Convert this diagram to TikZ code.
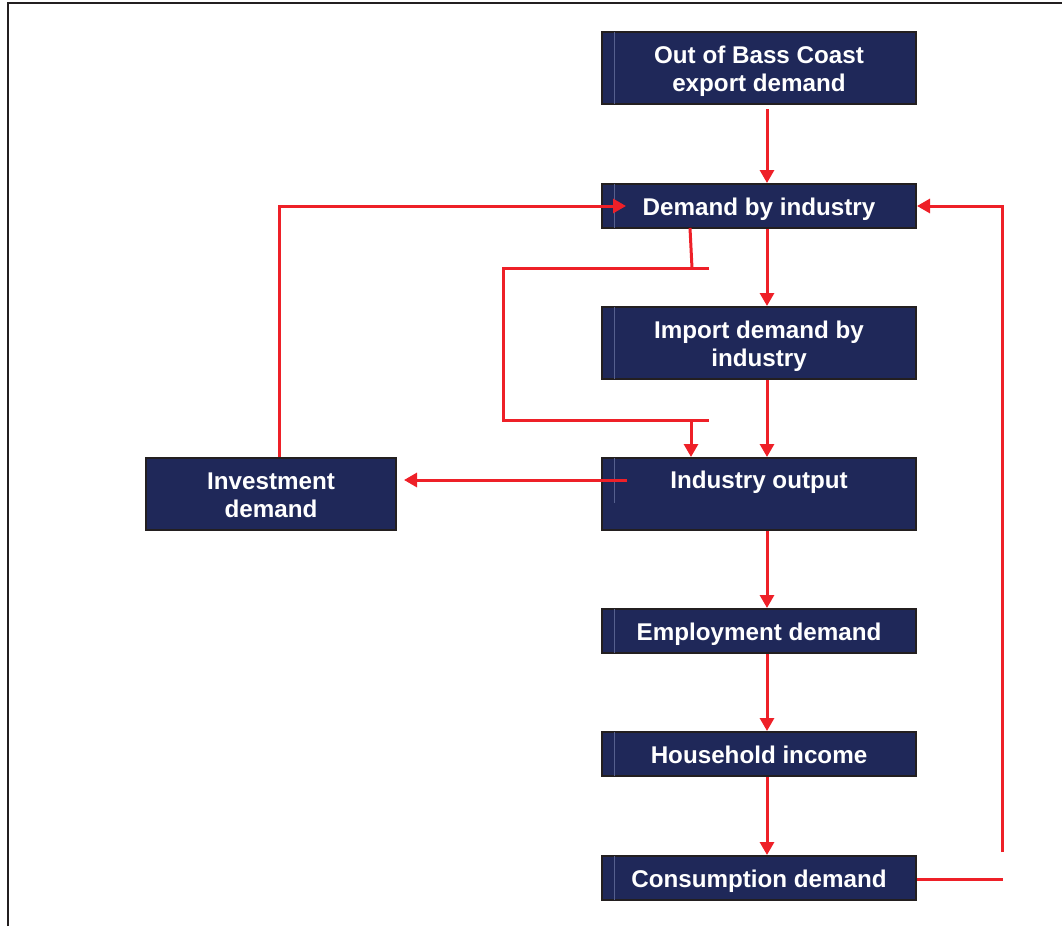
\documentclass[tikz,border=0pt]{standalone}
\usepackage{fontspec}
\setmainfont{Liberation Sans}
\usetikzlibrary{arrows.meta}
\definecolor{navy}{HTML}{1F2859}
\definecolor{inner}{HTML}{56608E}
\definecolor{arrred}{HTML}{EE2028}
\definecolor{frame}{HTML}{231F20}
\begin{document}
\begin{tikzpicture}[x=1pt,y=-1pt,
  txt/.style={text=white,font=\fontsize{24.2}{28}\selectfont\bfseries,align=center,inner sep=0pt,text height=21pt,text depth=2pt},
  two/.style={text height=51pt,text depth=4pt},
  box/.style={txt,draw=frame,line width=2pt,fill=navy},
  wide/.style={box,minimum width=314pt},
  conn/.style={draw=arrred,line width=3pt},
  tip/.style={conn,-{Triangle[width=14pt,length=13pt]}},
  innerline/.style={draw=inner,line width=0.8pt}]
\useasboundingbox (0,0) rectangle (1062,926);
\draw[draw=frame,line width=2.2pt] (8,926) -- (8,3) -- (1062,3);

\node[wide,two,minimum height=72pt] (out) at (759,68) {Out of Bass Coast\\export demand};
\node[wide,minimum height=44pt] (dem) at (759,206) {Demand by industry};
\node[wide,two,minimum height=72pt] (imp) at (759,343) {Import demand by\\industry};
\node[wide,minimum height=72pt] (outp) at (759,494) {};
\node[txt] (outpt) at (759,479) {Industry output};
\node[box,two,minimum width=250pt,minimum height=72pt] (inv) at (271,494) {Investment\\demand};
\node[wide,minimum height=44pt] (emp) at (759,631) {Employment demand};
\node[wide,minimum height=44pt] (hh) at (759,754) {Household income};
\node[wide,minimum height=44pt] (cons) at (759,878) {Consumption demand};

% thin inner lines
\draw[innerline] ([xshift=13pt,yshift=-1pt]out.north west) -- ([xshift=13pt,yshift=1pt]out.south west);
\draw[innerline] ([xshift=13pt,yshift=-1pt]dem.north west) -- ([xshift=13pt,yshift=1pt]dem.south west);
\draw[innerline] ([xshift=13pt,yshift=-1pt]imp.north west) -- ([xshift=13pt,yshift=1pt]imp.south west);
\draw[innerline] ([xshift=13pt,yshift=-1pt]outp.north west) -- ([xshift=13pt,yshift=28pt]outp.south west);
\draw[innerline] ([xshift=13pt,yshift=-1pt]emp.north west) -- ([xshift=13pt,yshift=1pt]emp.south west);
\draw[innerline] ([xshift=13pt,yshift=-1pt]hh.north west) -- ([xshift=13pt,yshift=1pt]hh.south west);
\draw[innerline] ([xshift=13pt,yshift=-1pt]cons.north west) -- ([xshift=13pt,yshift=1pt]cons.south west);

% main chain
\draw[tip] ([xshift=8pt,yshift=-4pt]out.south) -- ([xshift=8pt]dem.north);
\draw[tip] ([xshift=8pt]dem.south) -- ([xshift=8pt]imp.north);
\draw[tip] ([xshift=8pt]imp.south) -- ([xshift=8pt]outp.north);
\draw[tip] ([xshift=8pt]outp.south) -- ([xshift=8pt]emp.north);
\draw[tip] ([xshift=8pt]emp.south) -- ([xshift=8pt]hh.north);
\draw[tip] ([xshift=8pt]hh.south) -- ([xshift=8pt]cons.north);

% consumption feedback
\coordinate (c2) at (1002,852);
\draw[conn] ([yshift=-1pt]cons.east) -- ++(86,0);
\draw[tip] (c2) |- (dem.east);

% investment feedback
\draw[tip] ([xshift=8pt]inv.north) |- ([xshift=25pt]dem.west);
\draw[tip] ([xshift=26pt,yshift=14pt]outp.west) -- ([xshift=7pt,yshift=14pt]inv.east);

% bypass of imports
\coordinate (b0) at (690,228);
\coordinate (b1) at (692,268);
\coordinate (b2) at (709,268);
\coordinate (b3) at (503,268);
\coordinate (b4) at (503,420);
\coordinate (b5) at (709,420);
\coordinate (b6) at (691,420);
\draw[conn] (b0) -- (b1);
\draw[conn] (b2) -- (b3) -- (b4) -- (b5);
\draw[tip] (b6) -- (b6 |- outp.north);
\end{tikzpicture}
\end{document}
